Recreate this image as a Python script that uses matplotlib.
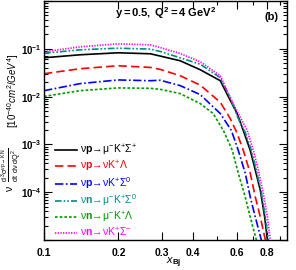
import numpy as np
import matplotlib
matplotlib.use("Agg")
import matplotlib.pyplot as plt
from matplotlib.ticker import FixedLocator, FuncFormatter, LogLocator, NullFormatter

plt.rcParams['font.family'] = ['Liberation Sans', 'DejaVu Sans']
plt.rcParams['mathtext.fontset'] = 'custom'
plt.rcParams['mathtext.rm'] = 'Liberation Sans'
plt.rcParams['mathtext.it'] = 'Liberation Sans:italic'
plt.rcParams['mathtext.bf'] = 'Liberation Sans:bold'
plt.rcParams['mathtext.default'] = 'regular'

x_sp_mu = [0.1, 0.14, 0.199, 0.269, 0.295, 0.355, 0.428, 0.516, 0.556, 0.604, 0.639, 0.682, 0.715, 0.749, 0.78, 0.80, 0.81]
y_sp_mu = [0.0649, 0.075, 0.0825, 0.0787, 0.0705, 0.0562, 0.0365, 0.0215, 0.01, 0.0044, 0.00196, 0.00075, 0.000287, 0.00011, 3.0e-5, 1e-5, 6e-6]

x_lam_nu = [0.1, 0.14, 0.199, 0.269, 0.295, 0.355, 0.428, 0.516, 0.566, 0.604, 0.639, 0.682, 0.715, 0.749, 0.785, 0.795]
y_lam_nu = [0.0301, 0.0383, 0.0442, 0.0408, 0.0371, 0.0274, 0.0174, 0.0076, 0.00348, 0.0017, 0.00075, 0.000249, 7.9e-5, 3e-5, 1e-5, 6e-6]

x_s0_nu = [0.1, 0.14, 0.199, 0.269, 0.295, 0.355, 0.428, 0.516, 0.572, 0.610, 0.651, 0.682, 0.715, 0.756, 0.765]
y_s0_nu = [0.0133, 0.0187, 0.0223, 0.0215, 0.022, 0.017, 0.011, 0.00442, 0.00196, 0.00075, 0.000249, 7.9e-5, 3e-5, 1e-5, 6e-6]

x_n_s0 = [0.1, 0.14, 0.199, 0.269, 0.295, 0.355, 0.428, 0.516, 0.566, 0.610, 0.651, 0.689, 0.722, 0.756, 0.785, 0.807, 0.815]
y_n_s0 = [0.0806, 0.0953, 0.103, 0.0986, 0.0879, 0.0649, 0.0475, 0.0249, 0.00953, 0.00348, 0.00178, 0.00075, 0.000287, 1e-4, 3e-5, 1e-5, 6e-6]

x_n_lam = [0.1, 0.14, 0.199, 0.269, 0.295, 0.355, 0.428, 0.483, 0.531, 0.577, 0.610, 0.651, 0.682, 0.722, 0.73]
y_n_lam = [0.0101, 0.0133, 0.0152, 0.0149, 0.0142, 0.01155, 0.00715, 0.00442, 0.00196, 0.00075, 0.000249, 7.9e-5, 3e-5, 1e-5, 6e-6]

x_n_sm = [0.1, 0.14, 0.199, 0.269, 0.295, 0.355, 0.428, 0.516, 0.551, 0.604, 0.663, 0.702, 0.735, 0.770, 0.800, 0.822, 0.83]
y_n_sm = [0.0866, 0.110, 0.127, 0.121, 0.106, 0.0798, 0.0536, 0.0274, 0.0127, 0.00487, 0.00196, 0.00075, 0.000287, 9.5e-5, 3e-5, 1e-5, 6e-6]

labels = [r'$\nu\mathbf{p}\!\rightarrow\!\mu^{-}K^{+}\Sigma^{+}$',
          r'$\nu\mathbf{p}\!\rightarrow\!\nu K^{+}\Lambda$',
          r'$\nu\mathbf{p}\!\rightarrow\!\nu K^{+}\Sigma^{0}$',
          r'$\nu\mathbf{n}\!\rightarrow\!\mu^{-}K^{+}\Sigma^{0}$',
          r'$\nu\mathbf{n}\!\rightarrow\!\mu^{-}K^{+}\Lambda$',
          r'$\nu\mathbf{n}\!\rightarrow\!\nu K^{+}\Sigma^{-}$']

xs = [x_sp_mu, x_lam_nu, x_s0_nu, x_n_s0, x_n_lam, x_n_sm]
ys = [y_sp_mu, y_lam_nu, y_s0_nu, y_n_s0, y_n_lam, y_n_sm]
colors = ['black', '#ff0000', '#0000ff', '#008b8b', '#009900', '#ff00ff']
styles = ['-', (0, (5, 2.5)), (0, (5, 1.5, 1, 1.5)), (0, (4, 1.2, 1, 1.2, 1, 1.2)), (0, (1.6, 1.2)), (0, (0.8, 0.8))]

fig = plt.figure(figsize=(2.96, 2.70), dpi=100)
ax = fig.add_axes([44/296, 1 - 240/270, 243/296, 239/270])

for x, y, c, ls, lab in zip(xs, ys, colors, styles, labels):
    ax.plot(x, y, color=c, linestyle=ls, lw=1.2, label=lab)

ax.set_xscale('log')
ax.set_yscale('log')
ax.set_xlim(0.1, 0.96)
ax.set_ylim(1e-5, 1.0)

ax.xaxis.set_major_locator(FixedLocator([0.1, 0.2, 0.3, 0.4, 0.6, 0.8]))
ax.xaxis.set_major_formatter(FuncFormatter(lambda v, p: '%g' % v))
ax.xaxis.set_minor_locator(FixedLocator([0.5, 0.7, 0.9]))
ax.xaxis.set_minor_formatter(NullFormatter())
ax.yaxis.set_major_locator(LogLocator(base=10, numticks=10))
ax.yaxis.set_minor_locator(LogLocator(base=10, subs=np.arange(2, 10), numticks=10))
ax.yaxis.set_minor_formatter(NullFormatter())
ax.yaxis.set_major_formatter(FuncFormatter(
    lambda v, p: r'$\mathbf{10^{%d}}$' % int(round(np.log10(v))) if 1e-5 < v < 1 else ''))

ax.tick_params(which='both', direction='in', top=True, right=True, width=0.8)
ax.tick_params(which='major', length=6)
ax.tick_params(axis='x', which='major', pad=6, labelsize=7.5)
ax.tick_params(axis='y', which='major', pad=2, labelsize=7)
ax.tick_params(which='minor', length=3)
for lbl in ax.get_xticklabels() + ax.get_yticklabels():
    lbl.set_fontweight('bold')
for s in ax.spines.values():
    s.set_linewidth(1.0)

ax.text(0.5, 0.95, r'$\mathbf{y=0.5,\ Q^{2}=4\ GeV^{2}}$', transform=ax.transAxes,
        ha='center', va='center', fontsize=8)
ax.text(0.935, 0.935, '(b)', transform=ax.transAxes, ha='center', va='center',
        fontsize=8, fontweight='bold')

leg = ax.legend(loc='upper left', bbox_to_anchor=(0.025, 0.43), frameon=False,
                fontsize=7.5, handlelength=2.1, handletextpad=0.3, labelspacing=0.12,
                borderpad=0.0, labelcolor='linecolor')

fig.text(0.585, 0.025, r'$\mathit{x}_{\mathbf{Bj}}$', ha='center', va='center', fontsize=8)
fig.text(0.036, 1 - 170/270, r'$\nu\ \ \frac{d^{3}\sigma^{\nu p \rightarrow K N}}{dt\ d\nu\ dQ^{2}}$',
         rotation=90, ha='center', va='center', fontsize=7.5)
fig.text(0.045, 1 - 91/270, r'$\mathit{[10^{-40}cm^{2}/GeV^{4}]}$',
         rotation=90, ha='center', va='center', fontsize=7)

fig.savefig('out.png', dpi=100)
